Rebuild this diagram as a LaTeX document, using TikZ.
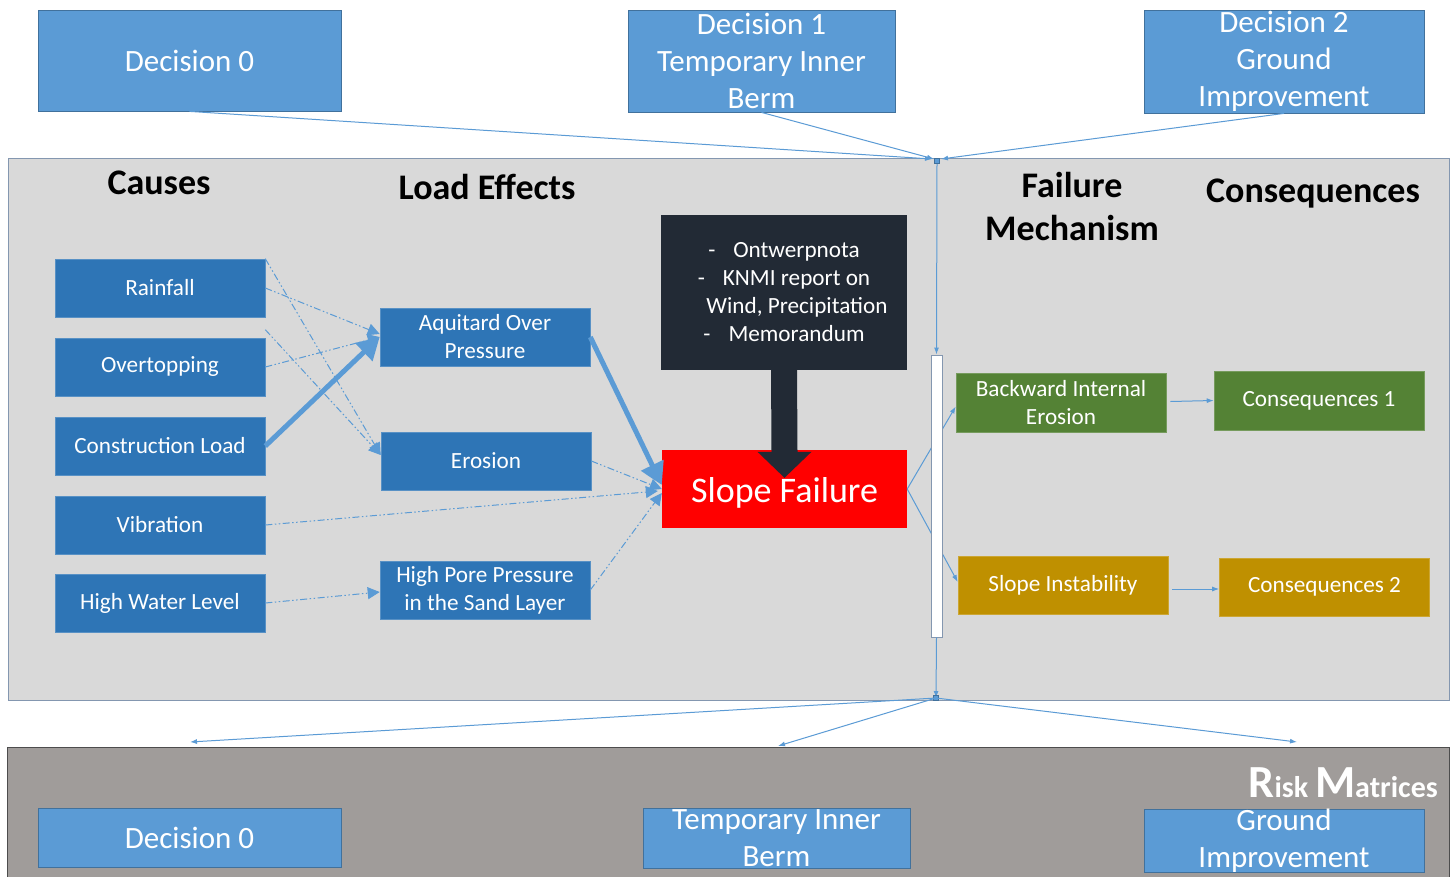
\documentclass[tikz,border=0pt]{standalone}
\usepackage{fontspec}
\setmainfont{Carlito}
\usetikzlibrary{arrows.meta,calc}
\definecolor{decblue}{HTML}{5B9BD5}
\definecolor{decedge}{HTML}{41719C}
\definecolor{boxblue}{HTML}{2E75B6}
\definecolor{panelgray}{HTML}{D9D9D9}
\definecolor{paneledge}{HTML}{8497B0}
\definecolor{matgray}{HTML}{A09C9A}
\definecolor{matedge}{HTML}{4D4D4D}
\definecolor{infodark}{HTML}{222A35}
\definecolor{mechgreen}{HTML}{548235}
\definecolor{mechgold}{HTML}{BF9000}
\definecolor{linkblue}{HTML}{5B9BD5}
\begin{document}
\begin{tikzpicture}[x=1pt,y=-1pt,
  box/.style={rectangle, inner sep=0pt, text=white, align=center},
  decision/.style={box, fill=decblue, draw=decedge, line width=0.8pt,
    font=\fontsize{31}{37}\selectfont},
  cause/.style={box, fill=boxblue, draw=boxblue!80!white, line width=0.6pt,
    minimum width=210pt, minimum height=58pt, font=\fontsize{23.2}{28}\selectfont},
  mech/.style={box, line width=0.6pt, minimum width=210pt, minimum height=58pt,
    font=\fontsize{23.2}{28}\selectfont},
  header/.style={anchor=base, inner sep=0pt, align=center, text=black,
    font=\bfseries\fontsize{36}{43}\selectfont},
  panel/.style={rectangle, inner sep=0pt, fill=panelgray, draw=paneledge, line width=1pt},
  junction/.style={rectangle, inner sep=0pt, minimum size=5pt, fill=linkblue, draw=decedge, line width=0.5pt},
  link/.style={draw=linkblue, line width=1pt},
  linkarrow/.style={link, -{Latex[length=7pt,width=5pt]}},
  dashdotdot/.style={link, dash pattern=on 7pt off 2.5pt on 1.5pt off 2.5pt on 1.5pt off 2.5pt,
    -{Triangle[length=12pt,width=12pt]}},
  heavy/.style={draw=linkblue, line width=5pt, -{Triangle[length=22pt,width=24pt]}}
]
\useasboundingbox (0,0) rectangle (1453,876);
\fill[white] (0,0) rectangle (1453,876);

% panels
\node[panel, minimum width=1441pt, minimum height=542pt] (main) at (728.5,429) {};
\node[rectangle, inner sep=0pt, fill=matgray, minimum width=1441pt, minimum height=132pt] (mat) at (728.5,814) {};
\draw[matedge, line width=1.2pt] (mat.south west) -- (mat.north west) -- (mat.north east) -- (mat.south east);

% decisions on top
\node[decision, minimum width=303pt, minimum height=101pt] (d0) at (189.5,60.5) {Decision 0};
\node[decision, minimum width=267pt, minimum height=102pt] (d1) at (761.5,61) {Decision 1\\Temporary Inner\\Berm};
\node[decision, minimum width=280pt, minimum height=103pt] (d2) at (1284,61.5) {Decision 2\\Ground\\Improvement};

% headers
\node[header] (hcause) at (159,194) {Causes};
\node[header] (hload) at (487,199) {Load Effects};
\node[header] (hfail) at (1072,240) {Failure\\Mechanism};
\node[header] (hcons) at (1313,202) {Consequences};

% causes
\node[cause] (rain) at (160,288) {Rainfall};
\node[cause] (over) at (160,367) {Overtopping};
\node[cause] (constr) at (160,446) {Construction Load};
\node[cause] (vib) at (160,525) {Vibration};
\node[cause] (hwl) at (160,603) {High Water Level};

% load effects
\node[cause] (aqu) at (485,337) {Aquitard Over\\Pressure};
\node[cause] (ero) at (486,461) {Erosion};
\node[cause] (hpp) at (485,590) {High Pore Pressure\\in the Sand Layer};

% sources and the failure itself
\node[box, fill=infodark, minimum width=246pt, minimum height=155pt,
  font=\fontsize{23.2}{28}\selectfont] (info) at (784,292.5)
  {-\hspace{18pt}Ontwerpnota\\
   -\hspace{18pt}KNMI report on\\
   \hspace*{26pt}Wind, Precipitation\\
   -\hspace{18pt}Memorandum};
\node[box, fill=red, minimum width=245pt, minimum height=78pt] (slope) at (784.5,489) {};
\node[box, anchor=base, font=\fontsize{36}{40}\selectfont] (slopetext) at (784.5,502) {Slope Failure};

% failure mechanisms and consequences
\node[mech, fill=mechgreen, draw=mechgreen!80!white, minimum height=59pt] (bie) at (1061,402.5) {Backward Internal\\Erosion};
\node[mech, fill=mechgold, draw=mechgold!80!white] (si) at (1063,585) {Slope Instability};
\node[mech, fill=mechgreen, draw=mechgreen!80!white, minimum height=59pt] (c1) at (1319,400.5) {Consequences 1};
\node[mech, fill=mechgold, draw=mechgold!80!white] (c2) at (1324.5,587) {Consequences 2};

% connectors from causes to load effects
\draw[dashdotdot] (rain.north east) -- ($(ero.west)+(0,-6)$);
\draw[dashdotdot] ($(over.north east)+(0,-8)$) -- ($(ero.west)+(0,-6)$);
\draw[dashdotdot] (rain.east) -- ($(aqu.west)+(0,-3)$);
\draw[dashdotdot] (over.east) -- (aqu.west);
\draw[dashdotdot] (hwl.east) -- ($(hpp.west)+(0,2)$);
\draw[heavy] (constr.east) -- (aqu.west);

% connectors into the slope failure
\draw[dashdotdot] (vib.east) -- ($(slope.west)+(-4,2)$);
\draw[dashdotdot] (ero.east) -- (slope.west);
\draw[dashdotdot] (hpp.east) -- ($(slope.west)+(0,4)$);
\draw[heavy] (aqu.east) -- ($(slope.west)+(0,-4)$);

% heavy block arrow from the sources box
\fill[infodark] ($(info.south)+(-13,0)$) -- ($(info.south)+(13,0)$)
  -- ($(slope.north)+(13,2)$) -- ($(slope.north)+(27,2)$)
  -- ($(slope.north)+(0,28)$) -- ($(slope.north)+(-27,2)$)
  -- ($(slope.north)+(-13,2)$) -- cycle;

% slope failure to mechanisms, behind the bar
\draw[linkarrow] (slope.east) -- ($(bie.west)+(0,4)$);
\draw[linkarrow] (slope.east) -- ($(si.west)+(0,-3)$);

% decisions feeding in and out
\coordinate (jt) at (937,161);
\coordinate (jb) at (936,698);
\draw[linkarrow] (d0.south) -- ($(jt)+(-5,-2)$);
\draw[linkarrow] (d1.south) -- ($(jt)+(-3,-2)$);
\draw[linkarrow] (d2.south) -- ($(jt)+(4,-2)$);

\node[rectangle, fill=white, draw=paneledge, line width=1pt, inner sep=0pt,
  minimum width=11pt, minimum height=282pt] (bar) at (936.5,496) {};
\draw[linkarrow] (jt) -- (bar.north);
\draw[linkarrow] (bar.south) -- (jb);
\node[junction] (jtop) at (jt) {};
\node[junction] (jbot) at (jb) {};

\coordinate (r0) at (190,742);
\coordinate (r1) at (778,746);
\coordinate (r2) at (1297,742);
\draw[linkarrow] (jb) -- (r0);
\draw[linkarrow] (jb) -- (r1);
\draw[linkarrow] (jb) -- (r2);

% mechanisms to consequences
\draw[linkarrow] ($(bie.east)+(4,-1)$) -- (c1.west);
\draw[linkarrow] ($(si.east)+(4,4)$) -- ($(c2.west)+(0,2)$);

% risk matrices
\node[anchor=base east, inner sep=0pt, text=white, font=\bfseries] (risk) at (1438,797)
  {\fontsize{46}{46}\selectfont R\fontsize{30}{30}\selectfont isk
   \fontsize{46}{46}\selectfont M\fontsize{30}{30}\selectfont atrices};
\node[decision, minimum width=303pt, minimum height=59pt] (b0) at (189.5,837.5) {Decision 0};
\node[decision, minimum width=267pt, minimum height=60pt] (b1) at (776.5,838) {Temporary Inner\\Berm};
\node[decision, minimum width=280pt, minimum height=60pt] (b2) at (1284,841) {Ground\\Improvement};
\end{tikzpicture}
\end{document}
